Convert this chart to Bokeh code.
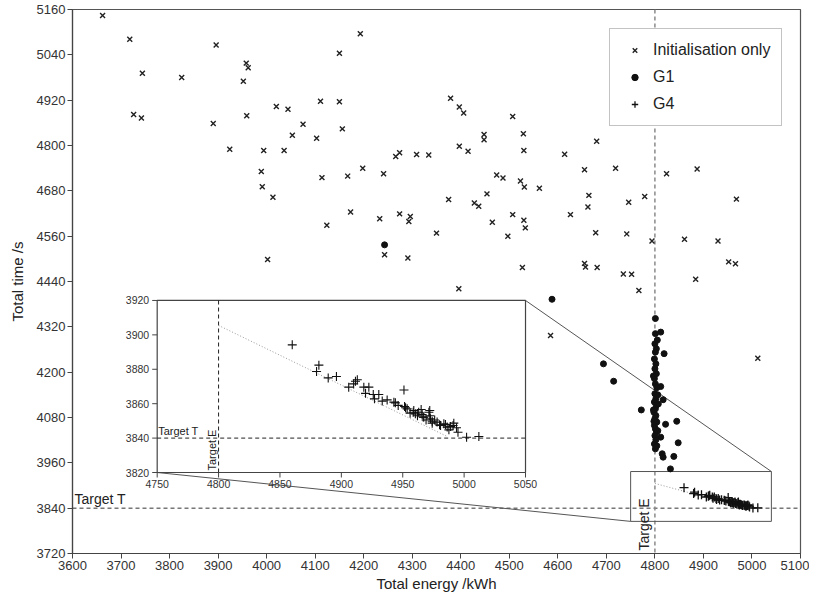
import math
from bokeh.plotting import figure
from bokeh.models import Range1d, FixedTicker, ColumnDataSource, Legend, LegendItem, Span
from bokeh.core.properties import value
from bokeh.embed import file_html
from bokeh.resources import INLINE

FONT = "Liberation Sans"

# ---------------- data ----------------
X_TICKS = list(range(3600, 5101, 100))
Y_TICKS = list(range(3720, 5161, 120))
INSET_X_TICKS = [4750, 4800, 4850, 4900, 4950, 5000, 5050]
INSET_Y_TICKS = [3820, 3840, 3860, 3880, 3900, 3920]

TARGET_E = 4800
TARGET_T = 3840

init_energy = [3662, 3718, 3744, 3825, 3726, 3742, 3896, 3958, 3962, 3952,
               3959, 3890, 4020, 4044, 4111, 4150, 4075, 4053, 4103, 4156,
               4150, 3924, 3994, 4036, 3989, 3991, 4013, 4114, 4167, 4193,
               4173, 4124, 4002, 4198, 4241, 4266, 4274, 4309, 4334, 4379,
               4397, 4406, 4397, 4415, 4448, 4448, 4507, 4529, 4530, 4614,
               4655, 4680, 4719, 4474, 4487, 4454, 4523, 4531, 4562, 4664,
               4375, 4428, 4437, 4662, 4746, 4233, 4274, 4296, 4293, 4350,
               4465, 4507, 4530, 4533, 4497, 4626, 4678, 4742, 4243, 4291,
               4527, 4655, 4657, 4681, 4735, 4396, 4779, 4968, 4794, 4861,
               4930, 4752, 4767, 4884, 4952, 4966, 4824, 4887, 4585, 5012]
init_time = [5144, 5081, 4991, 4980, 4882, 4873, 5066, 5018, 5006, 4970,
             4879, 4858, 4903, 4896, 4917, 4916, 4856, 4827, 4819, 4844,
             5044, 4790, 4787, 4787, 4731, 4691, 4663, 4715, 4719, 5096,
             4624, 4589, 4498, 4740, 4725, 4771, 4781, 4776, 4775, 4925,
             4902, 4886, 4798, 4785, 4829, 4815, 4877, 4831, 4787, 4777,
             4736, 4811, 4740, 4722, 4714, 4672, 4706, 4690, 4687, 4668,
             4657, 4648, 4639, 4637, 4650, 4606, 4619, 4612, 4599, 4568,
             4597, 4617, 4602, 4582, 4560, 4617, 4569, 4566, 4511, 4502,
             4477, 4488, 4478, 4477, 4460, 4421, 4665, 4658, 4547, 4552,
             4547, 4459, 4416, 4446, 4492, 4487, 4725, 4738, 4297, 4237]

g1_energy = [4243, 4588, 4801, 4694, 4715, 4772, 4812, 4819, 4812, 4817,
             4807, 4822, 4845, 4812, 4848, 4815, 4817, 4839, 4832,
             4801, 4800, 4803, 4801, 4799, 4802, 4800, 4803, 4799, 4801,
             4804, 4800, 4802, 4799, 4803, 4801, 4798, 4802, 4800, 4804,
             4799, 4801, 4803, 4800, 4802, 4799, 4801, 4805, 4797, 4806,
             4797, 4806, 4798, 4804]
g1_time = [4537, 4393, 4342, 4222, 4176, 4100, 4306, 4249, 4162, 4127,
           4116, 4062, 4070, 4028, 4013, 3984, 3975, 3977, 3944,
           4302, 4275, 4262, 4253, 4235, 4222, 4209, 4196, 4183, 4169,
           4159, 4143, 4130, 4121, 4112, 4103, 4094, 4085, 4077, 4068,
           4059, 4050, 4041, 4032, 4021, 4010, 3997, 4285, 4190, 4140,
           4100, 4045, 4070, 4005]

g4_energy = [4860.0, 4881.7, 4879.8, 4889.3, 4896.0, 4906.0, 4910.0, 4911.5,
             4913.0, 4918.3, 4919.7, 4922.4, 4926.0, 4927.0, 4930.5, 4933.3,
             4937.3, 4942.8, 4946.3, 4951.0, 4951.5, 4953.6, 4959.0, 4960.3,
             4963.0, 4965.0, 4965.8, 4967.2, 4971.3, 4972.0, 4972.6, 4974.0,
             4978.0, 4980.0, 4983.5, 4986.2, 4987.6, 4991.0, 4993.8, 4995.0,
             5002.0, 5012.0, 4944.0, 4952.3, 4958.5, 4966.7, 4972.0, 4974.0,
             4980.8, 4984.8, 4989.0, 4991.6, 4956.0, 4962.0, 4969.0, 4976.0]
g4_time = [3894.2, 3882.4, 3878.7, 3875.0, 3875.8, 3869.6, 3871.5, 3873.0,
           3873.9, 3869.6, 3866.0, 3869.6, 3865.3, 3862.8, 3865.3, 3861.5,
           3862.2, 3860.9, 3859.0, 3868.0, 3858.4, 3857.0, 3856.0, 3854.1,
           3855.0, 3856.6, 3853.7, 3852.2, 3855.0, 3856.0, 3851.2, 3849.8,
           3849.3, 3847.7, 3848.3, 3846.4, 3844.8, 3847.3, 3846.0, 3843.4,
           3840.5, 3840.9, 3860.5, 3857.6, 3855.0, 3852.2, 3853.0, 3848.7,
           3847.3, 3847.9, 3846.7, 3848.7, 3854.5, 3853.0, 3850.5, 3850.5]

front_energy = [4800, 4986]
front_time = [3905.5, 3841]

# zoom window marked on the main chart (left, right, bottom, top)
zoom_box = [4750, 5040, 3805, 3937]
# inset axis ranges
INSET_XR = (4750, 5050)
INSET_YR = (3820, 3920)

# ---------------- layout ----------------
XR = (3600, 5100)
YR = (3720, 5160)
# where the inset sits, in main-chart coordinates
INSET_POS = (3774.5, 4533.4, 3934.4, 4389.8)  # left, right, bottom, top


def extra(main_rng, pos0, pos1, in_rng):
    k = (in_rng[1] - in_rng[0]) / (pos1 - pos0)
    return Range1d(in_rng[0] - (pos0 - main_rng[0]) * k,
                   in_rng[1] + (main_rng[1] - pos1) * k)


p = figure(width=809, height=596, x_range=Range1d(*XR), y_range=Range1d(*YR),
           output_backend="svg", toolbar_location=None,
           min_border_left=72, min_border_right=9, min_border_top=9,
           min_border_bottom=43, background_fill_color="white")
p.extra_x_ranges = {"ix": extra(XR, INSET_POS[0], INSET_POS[1], INSET_XR)}
p.extra_y_ranges = {"iy": extra(YR, INSET_POS[2], INSET_POS[3], INSET_YR)}
p.grid.visible = False
p.outline_line_color = "#555555"
p.outline_line_width = 1.2

for ax, ticks in ((p.xaxis, X_TICKS), (p.yaxis, Y_TICKS)):
    ax.ticker = FixedTicker(ticks=ticks, minor_ticks=[])
    ax.major_label_text_font = FONT
    ax.major_label_text_font_size = "13px"
    ax.major_label_text_color = "#333333"
    ax.major_tick_out = 5
    ax.major_tick_in = 0
    ax.minor_tick_out = 0
    ax.minor_tick_in = 0
    ax.major_tick_line_color = "#444444"
    ax.axis_line_color = "#444444"
    ax.axis_line_width = 1.2
    ax.major_label_standoff = 2
    ax.axis_label_text_font = FONT
    ax.axis_label_text_font_size = "15px"
    ax.axis_label_text_font_style = "normal"
    ax.axis_label_text_color = "#222222"
p.xaxis.axis_label = "Total energy /kWh"
p.yaxis.axis_label = "Total time /s"
p.xaxis.axis_label_standoff = 2
p.yaxis.axis_label_standoff = 8

# target lines (main)
p.add_layout(Span(location=TARGET_T, dimension="width", line_dash="4 3",
                  line_color="#333333", line_width=1, level="underlay"))
p.add_layout(Span(location=TARGET_E, dimension="height", line_dash="4 3",
                  line_color="#8a8a8a", line_width=1.5, level="underlay"))

# connector lines from inset to zoom window
p.segment(x0=[INSET_POS[1], INSET_POS[0]], y0=[INSET_POS[3], INSET_POS[2]],
          x1=[zoom_box[1], zoom_box[0]], y1=[zoom_box[3], zoom_box[2]],
          line_color="#555555", line_width=1)
p.quad(left=[zoom_box[0]], right=[zoom_box[1]], bottom=[zoom_box[2]], top=[zoom_box[3]],
       fill_color=None, line_color="#555555", line_width=1)
p.line(front_energy, front_time, line_dash="1 2", line_color="#999999", line_width=1)

src_init = ColumnDataSource(dict(e=init_energy, t=init_time))
src_g1 = ColumnDataSource(dict(e=g1_energy, t=g1_time))
src_g4 = ColumnDataSource(dict(e=g4_energy, t=g4_time))

r_init = p.scatter("e", "t", source=src_init, marker="x", size=7,
                   line_color="#222222", line_width=1.4)
r_g1 = p.scatter("e", "t", source=src_g1, marker="circle", size=6,
                 fill_color="#111111", line_color="#111111")
r_g4 = p.scatter("e", "t", source=src_g4, marker="cross", size=9,
                 line_color="#111111", line_width=1.3)

# main target labels
p.text(x=[XR[0]], y=[TARGET_T], text=["Target T"], x_offset=2, y_offset=-1,
       text_align="left", text_baseline="bottom", text_font=value(FONT),
       text_font_size=value("14px"), text_color="#222222")
p.text(x=[TARGET_E], y=[YR[0]], text=["Target E"], angle=math.pi / 2,
       x_offset=-3, y_offset=-3, text_align="left", text_baseline="bottom",
       text_font=value(FONT), text_font_size=value("14px"), text_color="#222222")

# ---------------- inset ----------------
IR = dict(x_range_name="ix", y_range_name="iy")
p.quad(left=[INSET_XR[0]], right=[INSET_XR[1]], bottom=[INSET_YR[0]], top=[INSET_YR[1]],
       fill_color="white", line_color="#444444", line_width=1.2, **IR)
p.line([INSET_XR[0], INSET_XR[1]], [TARGET_T, TARGET_T], line_dash="4 3",
       line_color="#222222", line_width=1, **IR)
p.line([TARGET_E, TARGET_E], [INSET_YR[0], INSET_YR[1]], line_dash="4 3",
       line_color="#222222", line_width=1, **IR)
p.line(front_energy, front_time, line_dash="1 2", line_color="#999999",
       line_width=1, **IR)
p.scatter("e", "t", source=src_g4, marker="cross", size=9,
          line_color="#111111", line_width=1.1, **IR)

# inset ticks and labels
p.ray(x=INSET_X_TICKS, y=[INSET_YR[0]] * len(INSET_X_TICKS), length=5,
      length_units="screen", angle=-math.pi / 2, line_color="#444444", **IR)
p.ray(x=[INSET_XR[0]] * len(INSET_Y_TICKS), y=INSET_Y_TICKS, length=5,
      length_units="screen", angle=math.pi, line_color="#444444", **IR)
p.text(x=INSET_X_TICKS, y=[INSET_YR[0]] * len(INSET_X_TICKS),
       text=[str(v) for v in INSET_X_TICKS], y_offset=7, text_align="center",
       text_baseline="top", text_font=value(FONT), text_font_size=value("10.5px"),
       text_color="#333333", **IR)
p.text(x=[INSET_XR[0]] * len(INSET_Y_TICKS), y=INSET_Y_TICKS,
       text=[str(v) for v in INSET_Y_TICKS], x_offset=-8, text_align="right",
       text_baseline="middle", text_font=value(FONT), text_font_size=value("10.5px"),
       text_color="#333333", **IR)
p.text(x=[INSET_XR[0]], y=[TARGET_T], text=["Target T"], x_offset=1, y_offset=-1,
       text_align="left", text_baseline="bottom", text_font=value(FONT),
       text_font_size=value("11px"), text_color="#222222", **IR)
p.text(x=[TARGET_E], y=[INSET_YR[0]], text=["Target E"], angle=math.pi / 2,
       x_offset=-1, y_offset=-2, text_align="left", text_baseline="bottom",
       text_font=value(FONT), text_font_size=value("11px"), text_color="#222222", **IR)

# ---------------- legend ----------------
legend = Legend(items=[LegendItem(label="Initialisation only", renderers=[r_init]),
                       LegendItem(label="G1", renderers=[r_g1]),
                       LegendItem(label="G4", renderers=[r_g4])],
                location=(537, 427), padding=11, spacing=7, margin=0,
                glyph_width=27, glyph_height=16, label_height=20, label_standoff=5,
                label_text_font=FONT, label_text_font_size="16px",
                label_text_color="#222222", border_line_color="#888888",
                border_line_width=1.5, background_fill_color="white",
                background_fill_alpha=1.0)
p.add_layout(legend)

open("out.html", "w").write(file_html(p, INLINE))
